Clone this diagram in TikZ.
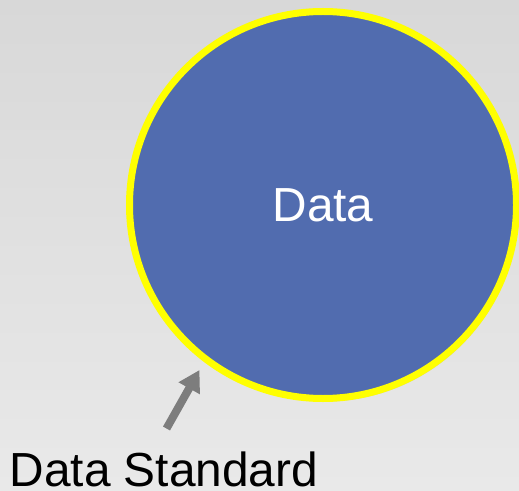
\documentclass[tikz,border=0pt]{standalone}
\usepackage{fontspec}
\setmainfont{Liberation Sans}
\usetikzlibrary{arrows.meta,shadows}
\definecolor{bgtop}{RGB}{216,216,216}
\definecolor{bgbot}{RGB}{233,233,233}
\definecolor{datablue}{RGB}{81,108,175}
\definecolor{ringyellow}{RGB}{255,255,0}
\definecolor{arrowgray}{RGB}{125,125,125}
\tikzset{
  datacircle/.style={circle, draw=ringyellow, line width=7bp, fill=datablue,
    minimum size=387bp, inner sep=0pt, text=white,
    font=\fontsize{48}{52}\selectfont,
    drop shadow={opacity=0.25, shadow xshift=2bp, shadow yshift=-3bp}},
  labeltext/.style={inner sep=0pt, anchor=base west, text=black,
    font=\fontsize{48}{52}\selectfont},
  pointer/.style={draw=arrowgray, line width=8bp,
    -{Triangle[width=23bp,length=21bp]}, arrowgray}
}
\begin{document}
\begin{tikzpicture}[x=1bp,y=-1bp]
\useasboundingbox (0,0) rectangle (519,491);
\shade[top color=bgtop, bottom color=bgbot] (0,0) rectangle (519,491);
\node[datacircle] (data) at (323,205) {Data};
\node[labeltext] (std) at (9.5,486) {Data Standard};
\coordinate (tail) at (166.5,428.5);
\coordinate (tip) at (199.5,370);
\draw[pointer] (tail) -- (tip);
\end{tikzpicture}
\end{document}
